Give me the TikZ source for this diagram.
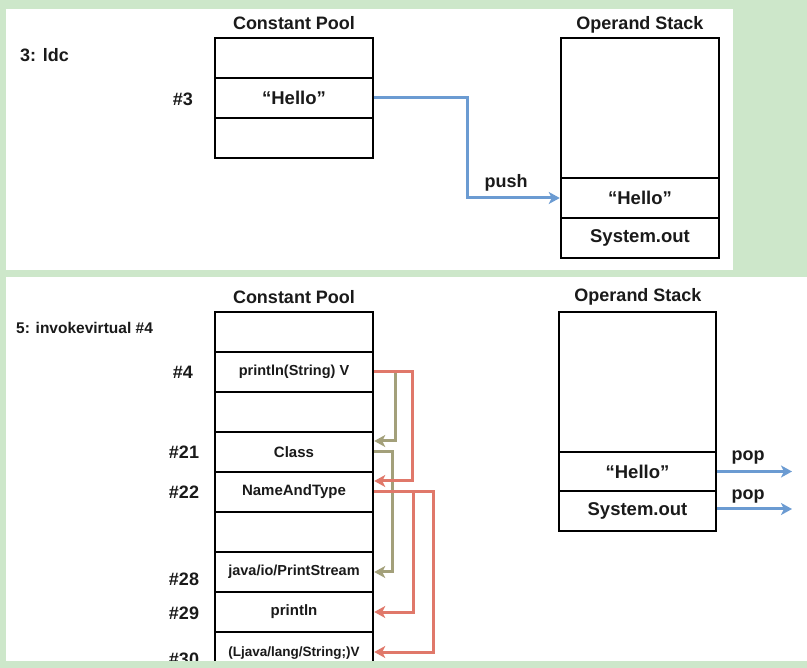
\documentclass[tikz,border=0pt]{standalone}
\usepackage{fontspec}
\setmainfont{Liberation Sans}
\usetikzlibrary{arrows.meta}
\definecolor{bggreen}{HTML}{CDE7CA}
\definecolor{olivearrow}{HTML}{A3A07A}
\definecolor{redarrow}{HTML}{E0786A}
\definecolor{bluearrow}{HTML}{6B9BD2}
\definecolor{inkc}{HTML}{1A1A1A}
\tikzset{
  cell/.style={draw=black, line width=2.5pt, minimum width=158pt, inner sep=0pt, text=inkc,
    font=\bfseries\fontsize{18.5}{18.5}\selectfont},
  smallcell/.style={cell, font=\bfseries\fontsize{15}{15}\selectfont},
  title/.style={inner sep=0pt, text=inkc, font=\bfseries\fontsize{18}{18}\selectfont},
  idx/.style={inner sep=0pt, text=inkc, font=\bfseries\fontsize{18}{18}\selectfont},
  conn/.style={line width=3pt, -{Stealth[length=11pt,width=12pt,inset=3pt]}},
  olivec/.style={conn, draw=olivearrow},
  redc/.style={conn, draw=redarrow},
  bluec/.style={conn, draw=bluearrow},
}
\begin{document}
\begin{tikzpicture}[x=1pt,y=-1pt]
\useasboundingbox (0,0) rectangle (807,668);
\fill[bggreen] (0,0) rectangle (807,668);
\fill[white] (6,9) rectangle (733,270);
\fill[white] (6,277) rectangle (807,661);

% ---------- top panel ----------
\node[title, anchor=west] (ldc) at (20,55) {3: ldc};
\node[title] (cpt) at (294,23) {Constant Pool};
\node[cell, minimum height=40pt] (t1) at (294,58) {};
\node[cell, minimum height=40pt] (t3) at (294,98) {“Hello”};
\node[cell, minimum height=40pt] (t5) at (294,138) {};
\node[idx] (l3) at (183,99) {\#3};

\node[title] (ost) at (640,25) {Operand Stack};
\node[cell, minimum height=140pt] (s0) at (640,108) {};
\node[cell, minimum height=40pt] (sh) at (640,198) {“Hello”};
\node[cell, minimum height=40pt] (so) at (640,238) {System.out};

\draw[bluec] (t3.east) -- (467,98) |- (sh.west);
\node[title] (push) at (506,183) {push};

% ---------- bottom panel ----------
\node[title, anchor=west, font=\bfseries\fontsize{15.5}{15.5}\selectfont] (inv) at (16,328) {5: invokevirtual \#4};
\node[title] (cpb) at (294,297) {Constant Pool};
\node[smallcell, minimum height=40pt] (b0) at (294,332) {};
\node[smallcell, minimum height=40pt, font=\bfseries\fontsize{14.5}{14.5}\selectfont] (b4) at (294,372) {println(String) V};
\node[smallcell, minimum height=40pt] (bx) at (294,412) {};
\node[smallcell, minimum height=40pt] (b21) at (294,452) {Class};
\node[smallcell, minimum height=40pt] (b22) at (294,492) {NameAndType};
\node[smallcell, minimum height=40pt] (by) at (294,532) {};
\node[smallcell, minimum height=40pt, font=\bfseries\fontsize{14.5}{14.5}\selectfont] (b28) at (294,572) {java/io/PrintStream};
\node[smallcell, minimum height=40pt] (b29) at (294,612) {println};
\node[smallcell, minimum height=40pt] (b30) at (294,652) {};
\node[inner sep=0pt, text=inkc, font=\bfseries\fontsize{13.5}{13.5}\selectfont] (b30t) at (294,653) {(Ljava/lang/String;)V};

\node[idx] (l4) at (183,372) {\#4};
\node[idx] (l21) at (184,452) {\#21};
\node[idx] (l22) at (184,492) {\#22};
\node[idx] (l28) at (184,579) {\#28};
\node[idx] (l29) at (184,613) {\#29};
\node[idx] (l30) at (184,659) {\#30};

% references
\draw[olivec] (b4.east) -- (395,372) |- ([yshift=11pt]b21.east);
\draw[olivec] (b21.east) -- (392,452) |- (b28.east);
\draw[redc] (b4.east) -- (412,372) |- ([yshift=11pt]b22.east);
\draw[redc] (b22.east) -- (413,492) |- (b29.east);
\draw[redc] (b22.east) -- (433,492) |- (b30.east);

% operand stack bottom
\node[title] (osb) at (638,297) {Operand Stack};
\node[cell, minimum width=157pt, minimum height=140pt] (u0) at (637.5,382) {};
\node[cell, minimum width=157pt, minimum height=39pt] (uh) at (637.5,471.5) {“Hello”};
\node[cell, minimum width=157pt, minimum height=40pt] (uo) at (637.5,511) {System.out};
\coordinate (p1) at (792,471.5);
\coordinate (p2) at (792,509);
\draw[bluec] (uh.east) -- (p1);
\draw[bluec] ([yshift=2pt]uo.east) -- (p2);
\node[title] (pop1) at (748,458) {pop};
\node[title] (pop2) at (748,497) {pop};

% bottom edge strip
\fill[bggreen] (0,661) rectangle (807,668);
\end{tikzpicture}
\end{document}
